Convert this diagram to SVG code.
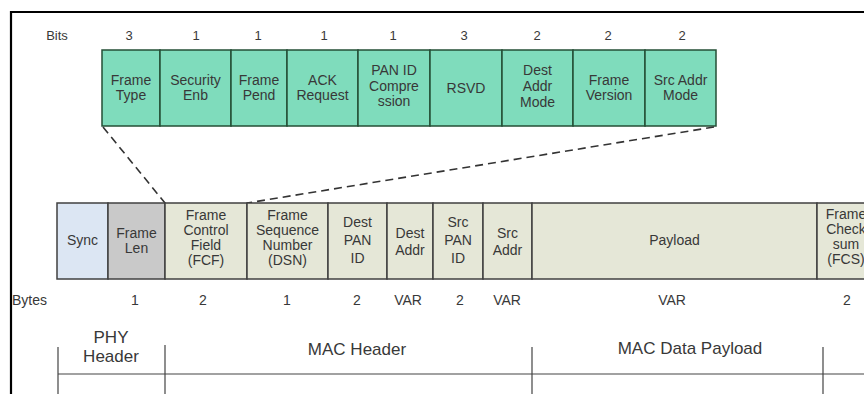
<svg xmlns="http://www.w3.org/2000/svg" width="864" height="394" viewBox="0 0 864 394">
<style>
text{font-family:"Liberation Sans",Arial,sans-serif;fill:#383838;text-anchor:middle}
.t{font-size:14px}
.n{font-size:13px}
.b{font-size:14px}
.big{font-size:17px}
.top{fill:#7fdcbc;stroke:#244f36;stroke-width:1.5}
.mid{stroke:#404040;stroke-width:1.5}
.beige{fill:#e5e7d7}
.dash{stroke:#333;stroke-width:1.6;stroke-dasharray:8 5;fill:none}
.br{stroke:#444;stroke-width:1.2;fill:none}
</style>
<rect x="0" y="0" width="864" height="394" fill="#fff"/>
<path d="M11,394 V12 H864" fill="none" stroke="#000" stroke-width="2.2"/>

<text class="n" x="57" y="40">Bits</text>
<g class="n">
<text class="n" x="129" y="40">3</text>
<text class="n" x="196" y="40">1</text>
<text class="n" x="258" y="40">1</text>
<text class="n" x="324" y="40">1</text>
<text class="n" x="393" y="40">1</text>
<text class="n" x="464" y="40">3</text>
<text class="n" x="537" y="40">2</text>
<text class="n" x="608" y="40">2</text>
<text class="n" x="682" y="40">2</text>
</g>

<g id="frame-type"><rect class="top" x="102" y="50" width="58" height="76"/><text class="t" x="131" y="85">Frame</text><text class="t" x="131" y="100">Type</text></g>
<g id="security-enb"><rect class="top" x="160" y="50" width="71" height="76"/><text class="t" x="195.5" y="85">Security</text><text class="t" x="195.5" y="100">Enb</text></g>
<g id="frame-pend"><rect class="top" x="231" y="50" width="56" height="76"/><text class="t" x="259" y="85">Frame</text><text class="t" x="259" y="100">Pend</text></g>
<g id="ack-request"><rect class="top" x="287" y="50" width="71" height="76"/><text class="t" x="322.5" y="85">ACK</text><text class="t" x="322.5" y="100">Request</text></g>
<g id="pan-id-compression"><rect class="top" x="358" y="50" width="72" height="76"/><text class="t" x="394" y="75">PAN ID</text><text class="t" x="394" y="91">Compre</text><text class="t" x="394" y="106">ssion</text></g>
<g id="rsvd"><rect class="top" x="430" y="50" width="72" height="76"/><text class="t" x="466" y="93">RSVD</text></g>
<g id="dest-addr-mode"><rect class="top" x="502" y="50" width="71" height="76"/><text class="t" x="537.5" y="75">Dest</text><text class="t" x="537.5" y="91">Addr</text><text class="t" x="537.5" y="107">Mode</text></g>
<g id="frame-version"><rect class="top" x="573" y="50" width="72" height="76"/><text class="t" x="609" y="85">Frame</text><text class="t" x="609" y="100">Version</text></g>
<g id="src-addr-mode"><rect class="top" x="645" y="50" width="71" height="76"/><text class="t" x="680.5" y="85">Src Addr</text><text class="t" x="680.5" y="100">Mode</text></g>

<g id="connectors">
<line class="dash" x1="103" y1="127" x2="165" y2="203"/>
<line class="dash" x1="714" y1="127" x2="247" y2="203"/>
</g>

<g id="sync"><rect class="mid" x="57" y="203" width="51" height="76" fill="#dce6f3"/><text class="t" x="82.5" y="245">Sync</text></g>
<g id="frame-len"><rect class="mid" x="108" y="203" width="57" height="76" fill="#c9c9c9"/><text class="t" x="136.5" y="238">Frame</text><text class="t" x="136.5" y="253">Len</text></g>
<g id="fcf"><rect class="mid beige" x="165" y="203" width="82" height="76"/><text class="t" x="206" y="220">Frame</text><text class="t" x="206" y="235">Control</text><text class="t" x="206" y="250">Field</text><text class="t" x="206" y="265">(FCF)</text></g>
<g id="dsn"><rect class="mid beige" x="247" y="203" width="81" height="76"/><text class="t" x="287.5" y="220">Frame</text><text class="t" x="287.5" y="235">Sequence</text><text class="t" x="287.5" y="250">Number</text><text class="t" x="287.5" y="265">(DSN)</text></g>
<g id="dest-pan-id"><rect class="mid beige" x="328" y="203" width="59" height="76"/><text class="t" x="357.5" y="227">Dest</text><text class="t" x="357.5" y="245">PAN</text><text class="t" x="357.5" y="263">ID</text></g>
<g id="dest-addr"><rect class="mid beige" x="387" y="203" width="46" height="76"/><text class="t" x="410" y="238">Dest</text><text class="t" x="410" y="255">Addr</text></g>
<g id="src-pan-id"><rect class="mid beige" x="433" y="203" width="50" height="76"/><text class="t" x="458" y="227">Src</text><text class="t" x="458" y="245">PAN</text><text class="t" x="458" y="263">ID</text></g>
<g id="src-addr"><rect class="mid beige" x="483" y="203" width="49" height="76"/><text class="t" x="507.5" y="238">Src</text><text class="t" x="507.5" y="255">Addr</text></g>
<g id="payload"><rect class="mid beige" x="532" y="203" width="285" height="76"/><text class="t" x="674.5" y="245">Payload</text></g>
<g id="fcs"><rect class="mid beige" x="817" y="203" width="70" height="76"/><text class="t" x="846" y="219">Frame</text><text class="t" x="846" y="234">Check</text><text class="t" x="846" y="249">sum</text><text class="t" x="846" y="264">(FCS)</text></g>

<text class="b" x="12" y="305" style="text-anchor:start">Bytes</text>
<text class="b" x="135" y="305">1</text>
<text class="b" x="203" y="305">2</text>
<text class="b" x="287" y="305">1</text>
<text class="b" x="357" y="305">2</text>
<text class="b" x="408" y="305">VAR</text>
<text class="b" x="460" y="305">2</text>
<text class="b" x="507" y="305">VAR</text>
<text class="b" x="672" y="305">VAR</text>
<text class="b" x="847" y="305">2</text>

<g id="layer-brackets">
<line class="br" x1="58" y1="374" x2="864" y2="374"/>
<line class="br" x1="58" y1="347" x2="58" y2="394"/>
<line class="br" x1="165" y1="345" x2="165" y2="394"/>
<line class="br" x1="532" y1="347" x2="532" y2="394"/>
<line class="br" x1="823" y1="347" x2="823" y2="394"/>
</g>
<g id="phy-header"><text class="big" x="111" y="343">PHY</text><text class="big" x="111" y="362">Header</text></g>
<g id="mac-header"><text class="big" x="357" y="355">MAC Header</text></g>
<g id="mac-data-payload"><text class="big" x="690" y="354">MAC Data Payload</text></g>
</svg>
